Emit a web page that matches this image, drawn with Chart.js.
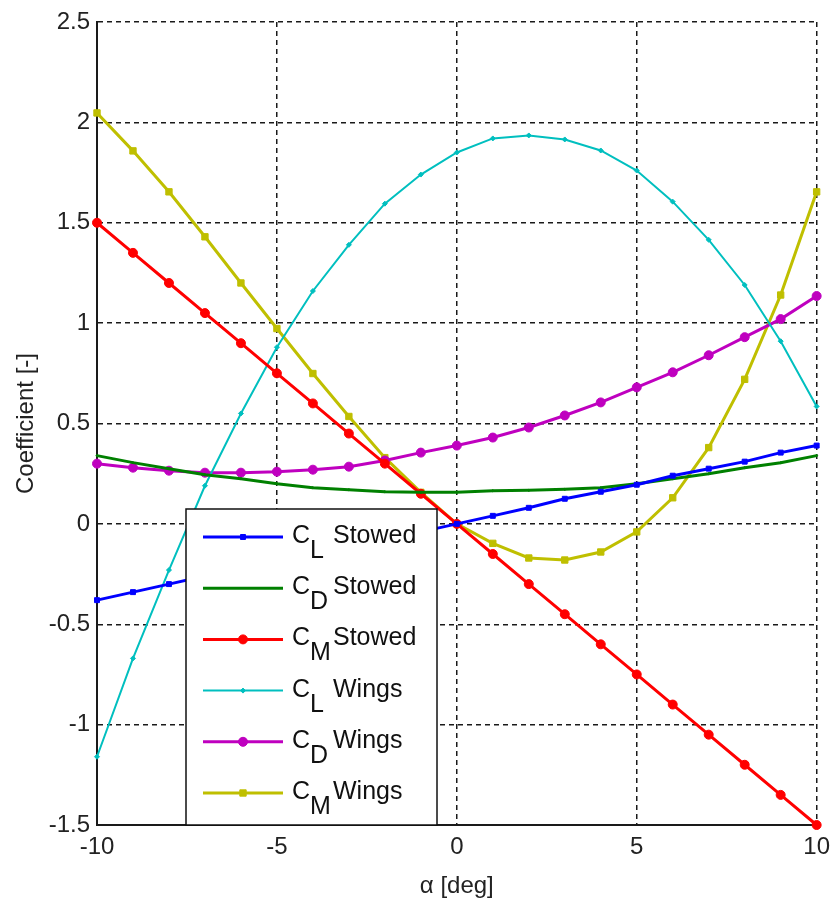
<!DOCTYPE html>
<html>
<head>
<meta charset="utf-8">
<script src="https://cdn.jsdelivr.net/npm/chart.js@4.4.1/dist/chart.umd.min.js"></script>
<style>
  html, body { margin: 0; background: #fff; }
  #wrap { width: 838px; height: 901px; }
</style>
</head>
<body>
<div id="wrap"><canvas id="coefChart"></canvas></div>
<script>
// angle of attack [deg]
const alpha = [-10, -9, -8, -7, -6, -5, -4, -3, -2, -1, 0, 1, 2, 3, 4, 5, 6, 7, 8, 9, 10];

const clStowed = [-0.38, -0.34, -0.30, -0.26, -0.23, -0.19, -0.15, -0.11, -0.08, -0.04, 0,
                  0.04, 0.08, 0.125, 0.16, 0.195, 0.24, 0.275, 0.31, 0.355, 0.39];
const cdStowed = [0.34, 0.305, 0.275, 0.245, 0.225, 0.20, 0.18, 0.17, 0.16, 0.157, 0.157,
                  0.165, 0.167, 0.172, 0.18, 0.20, 0.225, 0.25, 0.28, 0.305, 0.34];
const cmStowed = [1.5, 1.35, 1.2, 1.05, 0.9, 0.75, 0.6, 0.45, 0.3, 0.15, 0,
                  -0.15, -0.3, -0.45, -0.6, -0.75, -0.9, -1.05, -1.2, -1.35, -1.5];
const clWings = [-1.16, -0.67, -0.23, 0.19, 0.55, 0.88, 1.16, 1.39, 1.595, 1.74, 1.85,
                 1.92, 1.935, 1.915, 1.86, 1.76, 1.605, 1.415, 1.19, 0.91, 0.585];
const cdWings = [0.30, 0.28, 0.265, 0.255, 0.255, 0.26, 0.27, 0.285, 0.316, 0.355, 0.39,
                 0.43, 0.48, 0.54, 0.605, 0.68, 0.755, 0.84, 0.93, 1.02, 1.135];
const cmWings = [2.047, 1.858, 1.654, 1.43, 1.20, 0.973, 0.749, 0.535, 0.33, 0.157, 0,
                 -0.097, -0.17, -0.18, -0.14, -0.04, 0.13, 0.38, 0.72, 1.14, 1.654];

// axis tick values
const xTicks = [-10, -5, 0, 5, 10];
const yTicks = [-1.5, -1, -0.5, 0, 0.5, 1, 1.5, 2, 2.5];

// legend text: coefficient letter, subscript, configuration
const legendSubs = ['L', 'D', 'M', 'L', 'D', 'M'];
const legendNames = ['Stowed', 'Stowed', 'Stowed', 'Wings', 'Wings', 'Wings'];

const FONT = '"Liberation Sans", Arial, Helvetica, sans-serif';

const pts = ys => alpha.map((a, i) => ({ x: a, y: ys[i] }));

function series(label, ys, color, width, style, radius) {
  return {
    label,
    data: pts(ys),
    borderColor: color,
    backgroundColor: color,
    borderWidth: width,
    pointStyle: style,
    pointRadius: radius,
    pointBorderWidth: 1,
    tension: 0,
    clip: false
  };
}

// MATLAB-style legend box with subscripts, drawn over the lines
const coefLegend = {
  id: 'coefLegend',
  afterDatasetsDraw(chart) {
    const { ctx, chartArea } = chart;
    const left = chartArea.left + 89, right = chartArea.left + 340;
    const top = 509, bottom = chartArea.bottom;
    ctx.save();
    ctx.fillStyle = '#fff';
    ctx.fillRect(left, top, right - left, bottom - top);
    ctx.strokeStyle = '#111';
    ctx.lineWidth = 1.5;
    ctx.strokeRect(left, top, right - left, bottom - top);

    chart.data.datasets.forEach((ds, i) => {
      const y = top + 28 + i * 51.2;
      ctx.strokeStyle = ds.borderColor;
      ctx.lineWidth = ds.borderWidth;
      ctx.setLineDash([]);
      ctx.beginPath();
      ctx.moveTo(left + 17, y);
      ctx.lineTo(left + 97, y);
      ctx.stroke();
      if (ds.pointRadius > 1) {
        ctx.fillStyle = ds.borderColor;
        ctx.lineWidth = 1;
        Chart.helpers.drawPoint(ctx, {
          pointStyle: ds.pointStyle, radius: ds.pointRadius, rotation: 0, borderWidth: 1
        }, left + 57, y);
      }
      ctx.fillStyle = '#111';
      ctx.font = '25px ' + FONT;
      ctx.textBaseline = 'alphabetic';
      ctx.textAlign = 'left';
      const tx = left + 106;
      ctx.fillText('C', tx, y + 6);
      const cw = ctx.measureText('C').width;
      ctx.fillText(legendSubs[i], tx + cw, y + 21);
      ctx.fillText(legendNames[i], left + 147, y + 6);
    });
    ctx.restore();
  }
};

const gridStyle = { color: '#1a1a1a', lineWidth: 1.5, drawTicks: false };
const borderStyle = { display: true, color: '#1a1a1a', width: 2, dash: [5, 4] };
const tickFont = { family: FONT, size: 24 };

new Chart(document.getElementById('coefChart'), {
  type: 'line',
  data: {
    datasets: [
      series('CL Stowed', clStowed, '#0000ff', 3, 'rect', 3.5),
      series('CD Stowed', cdStowed, '#008000', 3, 'circle', 1),
      series('CM Stowed', cmStowed, '#ff0000', 3, 'circle', 4.5),
      series('CL Wings', clWings, '#00bfbf', 2, 'rectRot', 2.5),
      series('CD Wings', cdWings, '#bf00bf', 3, 'circle', 4.5),
      series('CM Wings', cmWings, '#bfbf00', 3, 'rect', 4.5)
    ]
  },
  options: {
    responsive: true,
    maintainAspectRatio: false,
    animation: false,
    layout: { padding: { top: 22, right: 15, left: 0, bottom: 0 } },
    plugins: {
      legend: { display: false },
      tooltip: { enabled: false }
    },
    scales: {
      x: {
        type: 'linear',
        min: -10,
        max: 10,
        afterFit: s => { s.height = 76; },
        afterBuildTicks: s => { s.ticks = xTicks.map(v => ({ value: v })); },
        ticks: {
          padding: 8,
          color: '#222',
          font: tickFont,
          callback: v => String(v)
        },
        grid: gridStyle,
        border: borderStyle,
        title: {
          display: true,
          text: 'α [deg]',
          color: '#222',
          font: tickFont,
          padding: { top: 4, bottom: 0 }
        }
      },
      y: {
        min: -1.5,
        max: 2.5,
        afterFit: s => { s.width = 97; },
        afterBuildTicks: s => { s.ticks = yTicks.map(v => ({ value: v })); },
        ticks: {
          padding: 7,
          color: '#222',
          font: tickFont,
          callback: v => String(v)
        },
        grid: gridStyle,
        border: borderStyle,
        title: {
          display: true,
          text: 'Coefficient [-]',
          color: '#222',
          font: tickFont,
          padding: { top: 12, bottom: 0 }
        }
      }
    }
  },
  plugins: [coefLegend]
});
</script>
</body>
</html>
